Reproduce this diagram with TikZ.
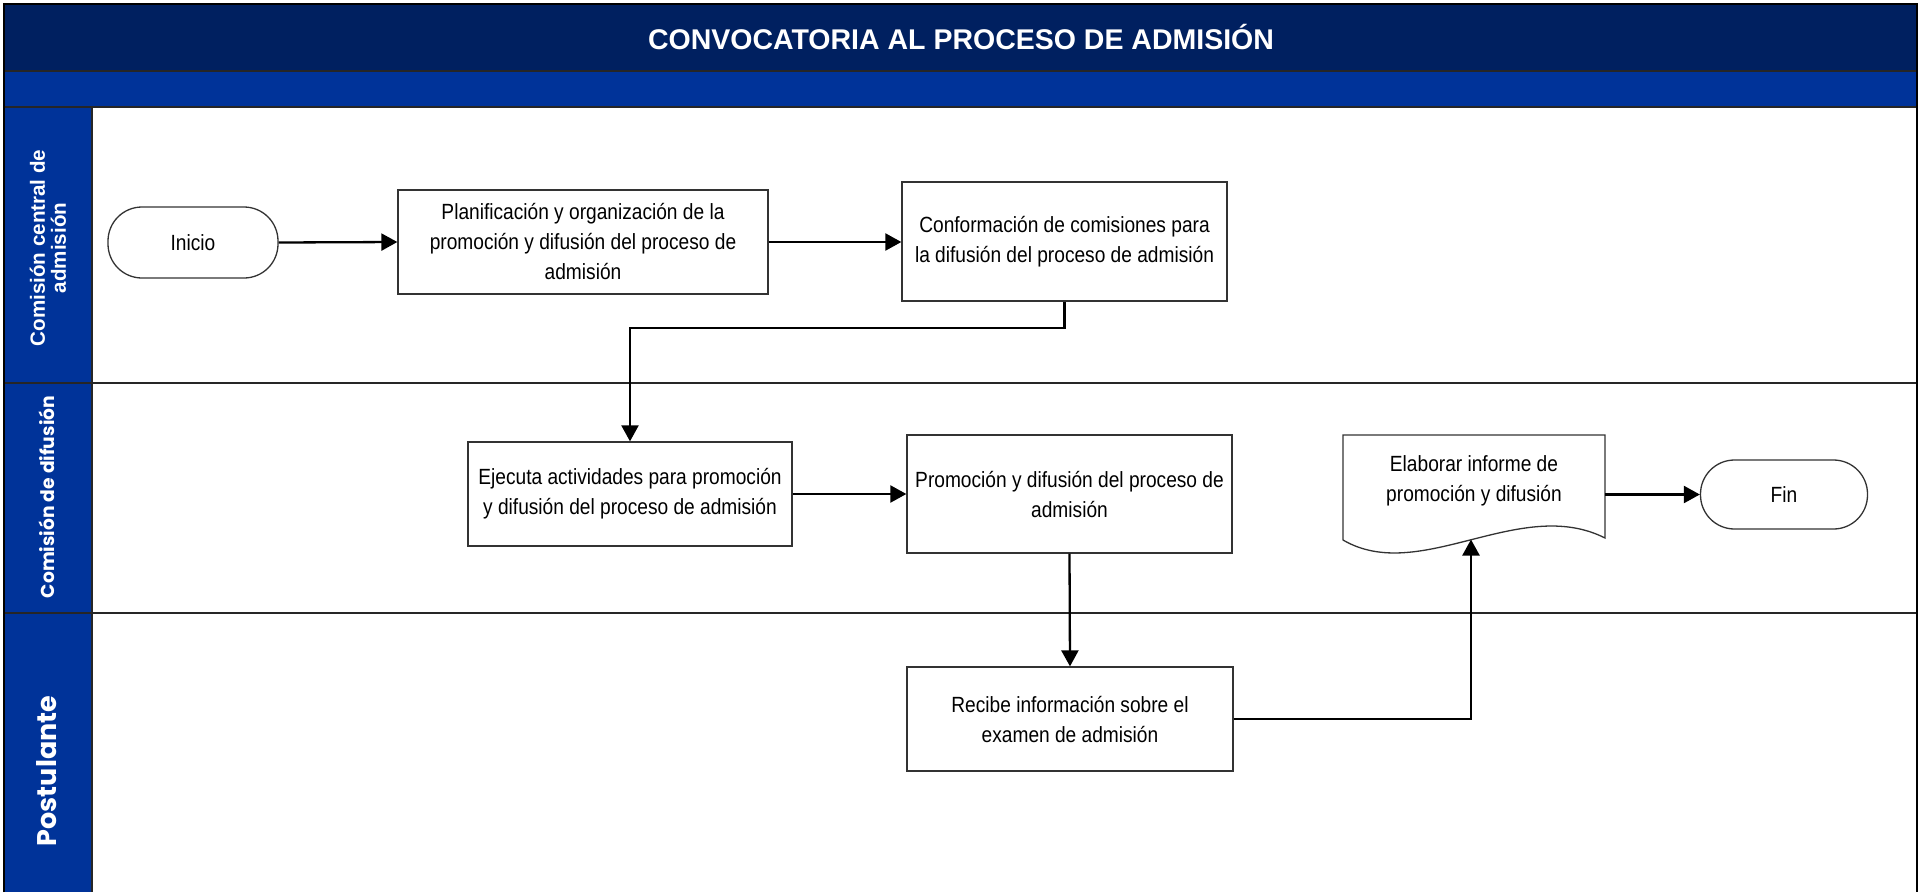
\documentclass[tikz,border=0pt]{standalone}
\usepackage{fontspec}
\setmainfont{Liberation Sans}
\newfontfamily\boxfont[FakeStretch=0.87]{Liberation Sans}
\newfontfamily\lanefont{Poppins}
\usetikzlibrary{arrows.meta}
\definecolor{navy}{RGB}{0,32,96}
\definecolor{laneblue}{RGB}{0,51,153}
\begin{document}
\begin{tikzpicture}[x=1pt,y=-1pt,
  proc/.style={draw=black!80, line width=1.3pt, fill=white, align=center, inner sep=0pt,
    font=\boxfont\fontsize{22}{30}\selectfont},
  term/.style={proc, rounded corners=34pt},
  conn/.style={line width=2.3pt, line join=miter, -{Triangle[length=16pt,width=17pt]}},
  lanelbl/.style={text=white, align=center, rotate=90, inner sep=0pt},
  divider/.style={draw=black!85, line width=2pt}
]
\useasboundingbox (0,0) rectangle (1920,892);
% bands
\fill[navy] (4,4) rectangle (1917,71);
\fill[laneblue] (4,71) rectangle (1917,107);
\fill[laneblue] (4,107) rectangle (92,892);
\draw[divider] (4,71) -- (1917,71);
\draw[divider] (4,107) -- (1917,107);
\draw[divider] (4,383) -- (1917,383);
\draw[divider] (4,613) -- (1917,613);
\draw[divider] (92,107) -- (92,892);
\draw[black, line width=2pt] (4,892) -- (4,4) -- (1917,4) -- (1917,892);
% title
\node[text=white, font=\bfseries\fontsize{28.5}{34}\selectfont] (title) at (961,37) {CONVOCATORIA AL PROCESO DE ADMISIÓN};
% lane labels
\node[lanelbl, font=\bfseries\fontsize{20.6}{21}\selectfont] (l1) at (48,248) {Comisión central de\\admisión};
\node[lanelbl, font=\lanefont\bfseries\fontsize{18.7}{24}\selectfont] (l2) at (47,497) {Comisión de difusión};
\node[lanelbl, font=\lanefont\bfseries\fontsize{27}{30}\selectfont] (l3) at (47,771) {Postulante};
% nodes
\node[term, minimum width=170pt, minimum height=71pt] (ini) at (193,242.5) {Inicio};
\node[proc, minimum width=370pt, minimum height=104pt] (plan) at (583,242) {Planificación y organización de la\\promoción y difusión del proceso de\\admisión};
\node[proc, minimum width=325pt, minimum height=119pt] (conf) at (1064.5,241.5) {Conformación de comisiones para\\la difusión del proceso de admisión};
\node[proc, minimum width=324pt, minimum height=104pt] (ejec) at (630,494) {Ejecuta actividades para promoción\\y difusión del proceso de admisión};
\node[proc, minimum width=325pt, minimum height=118pt] (prom) at (1069.5,494) {Promoción y difusión del proceso de\\admisión};
\node[proc, minimum width=326pt, minimum height=104pt] (rec) at (1070,719) {Recibe información sobre el\\examen de admisión};
\node[term, minimum width=167pt, minimum height=69pt] (fin) at (1784,494.5) {Fin};
% document shape
\draw[draw=black!80, line width=1.3pt, fill=white] (1343,435) -- (1605,435) -- (1605,538)
  .. controls (1520,495) and (1420,585) .. (1343,540) -- cycle;
\node[align=center, inner sep=0pt, minimum width=262pt, font=\boxfont\fontsize{22}{30}\selectfont] (elab) at (1474,481) {Elaborar informe de\\promoción y difusión};
\coordinate (wv) at (1471,539.5);
% connectors
\draw[conn] (ini.east) -- (plan.west);
\draw[conn] (plan.east) -- (plan.east -| conf.west);
\draw[conn] (conf.south) -- ++(0,26) -| (ejec.north);
\draw[conn] (ejec.east) -- (ejec.east -| prom.west);
\draw[conn] (prom.south) -- (rec.north);
\draw[conn] (rec.east) -| (wv);
\draw[conn] (elab.east |- fin.west) -- (fin.west);
\end{tikzpicture}
\end{document}
